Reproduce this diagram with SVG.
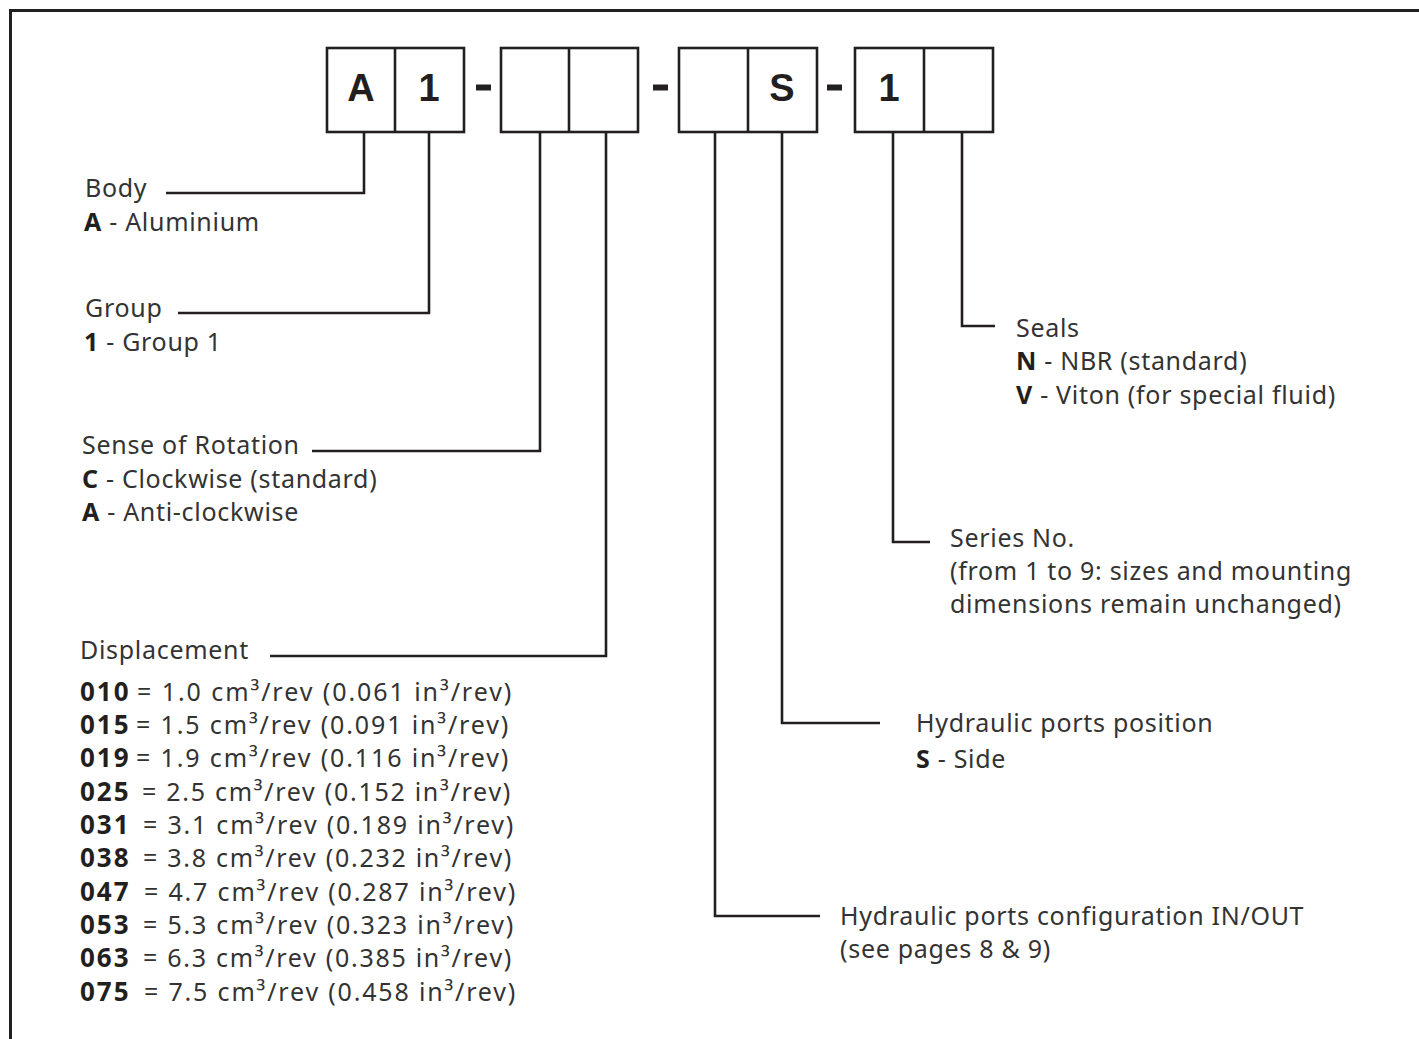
<svg xmlns="http://www.w3.org/2000/svg" width="1419" height="1039" viewBox="0 0 1419 1039">
<style>
.box{fill:#fff;stroke:#231f20;stroke-width:2.6}
.div{stroke:#231f20;stroke-width:2.6}
.dash{fill:#231f20}
.code{font-family:"Liberation Sans",Arial,sans-serif;font-weight:700;font-size:38px;fill:#231f20;text-anchor:middle}
.lead{fill:none;stroke:#231f20;stroke-width:2.6}
.t{font-family:"Noto Sans","Open Sans",sans-serif;font-size:25px;letter-spacing:0.7px;fill:#333}
.b{font-weight:700;fill:#231f20}
.n{font-family:"Noto Sans","Open Sans",sans-serif;font-size:26px;font-weight:700;letter-spacing:2px;fill:#231f20}
</style>
<rect width="1419" height="1039" fill="#fff"/>
<path d="M10.5,1039 V10.5 H1419" fill="none" stroke="#231f20" stroke-width="3"/>
<g id="code">
<g id="group1">
<rect class="box" x="327" y="48" width="137" height="84"/>
<line class="div" x1="395" y1="48" x2="395" y2="132"/>
<text class="code" x="361" y="101">A</text>
<text class="code" x="429" y="101">1</text>
</g>
<rect class="dash" x="476" y="84.5" width="15" height="6"/>
<g id="group2">
<rect class="box" x="501" y="48" width="137" height="84"/>
<line class="div" x1="569" y1="48" x2="569" y2="132"/>
</g>
<rect class="dash" x="653" y="84.5" width="15" height="6"/>
<g id="group3">
<rect class="box" x="679" y="48" width="138" height="84"/>
<line class="div" x1="748" y1="48" x2="748" y2="132"/>
<text class="code" x="782" y="101">S</text>
</g>
<rect class="dash" x="827" y="84.5" width="15" height="6"/>
<g id="group4">
<rect class="box" x="855" y="48" width="138" height="84"/>
<line class="div" x1="924" y1="48" x2="924" y2="132"/>
<text class="code" x="889" y="101">1</text>
</g>
</g>
<g id="connectors">
<path class="lead" d="M364,132 V193 H166"/>
<path class="lead" d="M429,132 V313 H178"/>
<path class="lead" d="M540,132 V451 H312"/>
<path class="lead" d="M606,132 V656 H270"/>
<path class="lead" d="M715,132 V916 H820"/>
<path class="lead" d="M782,132 V723 H880"/>
<path class="lead" d="M893,132 V542 H930"/>
<path class="lead" d="M962,132 V326 H995"/>
</g>
<g id="body">
<text class="t" x="85" y="197">Body</text>
<text class="t" x="84" y="231"><tspan class="b">A</tspan> - Aluminium</text>
</g>
<g id="group">
<text class="t" x="85" y="317">Group</text>
<text class="t" x="84" y="351"><tspan class="b">1</tspan> - Group 1</text>
</g>
<g id="rotation">
<text class="t" x="82" y="454">Sense of Rotation</text>
<text class="t" x="82" y="488"><tspan class="b">C</tspan> - Clockwise (standard)</text>
<text class="t" x="82" y="521"><tspan class="b">A</tspan> - Anti-clockwise</text>
</g>
<g id="displacement">
<text class="t" x="80" y="659">Displacement</text>
<text class="n" x="80" y="701">010</text><text class="t" x="137" y="701" textLength="375">= 1.0 cm³/rev (0.061 in³/rev)</text>
<text class="n" x="80" y="734">015</text><text class="t" x="136" y="734" textLength="373">= 1.5 cm³/rev (0.091 in³/rev)</text>
<text class="n" x="80" y="767">019</text><text class="t" x="136" y="767" textLength="373">= 1.9 cm³/rev (0.116 in³/rev)</text>
<text class="n" x="80" y="801">025</text><text class="t" x="142" y="801" textLength="369">= 2.5 cm³/rev (0.152 in³/rev)</text>
<text class="n" x="80" y="834">031</text><text class="t" x="143" y="834" textLength="371">= 3.1 cm³/rev (0.189 in³/rev)</text>
<text class="n" x="80" y="867">038</text><text class="t" x="143" y="867" textLength="369">= 3.8 cm³/rev (0.232 in³/rev)</text>
<text class="n" x="80" y="901">047</text><text class="t" x="144" y="901" textLength="372">= 4.7 cm³/rev (0.287 in³/rev)</text>
<text class="n" x="80" y="934">053</text><text class="t" x="143" y="934" textLength="371">= 5.3 cm³/rev (0.323 in³/rev)</text>
<text class="n" x="80" y="967">063</text><text class="t" x="143" y="967" textLength="369">= 6.3 cm³/rev (0.385 in³/rev)</text>
<text class="n" x="80" y="1001">075</text><text class="t" x="144" y="1001" textLength="372">= 7.5 cm³/rev (0.458 in³/rev)</text>
</g>
<g id="seals">
<text class="t" x="1016" y="337">Seals</text>
<text class="t" x="1016" y="370"><tspan class="b">N</tspan> - NBR (standard)</text>
<text class="t" x="1016" y="404"><tspan class="b">V</tspan> - Viton (for special fluid)</text>
</g>
<g id="series">
<text class="t" x="950" y="547">Series No.</text>
<text class="t" x="950" y="580">(from 1 to 9: sizes and mounting</text>
<text class="t" x="950" y="613">dimensions remain unchanged)</text>
</g>
<g id="position">
<text class="t" x="916" y="732">Hydraulic ports position</text>
<text class="t" x="916" y="768"><tspan class="b">S</tspan> - Side</text>
</g>
<g id="configuration">
<text class="t" x="840" y="925">Hydraulic ports configuration IN/OUT</text>
<text class="t" x="840" y="958">(see pages 8 &amp; 9)</text>
</g>
</svg>
